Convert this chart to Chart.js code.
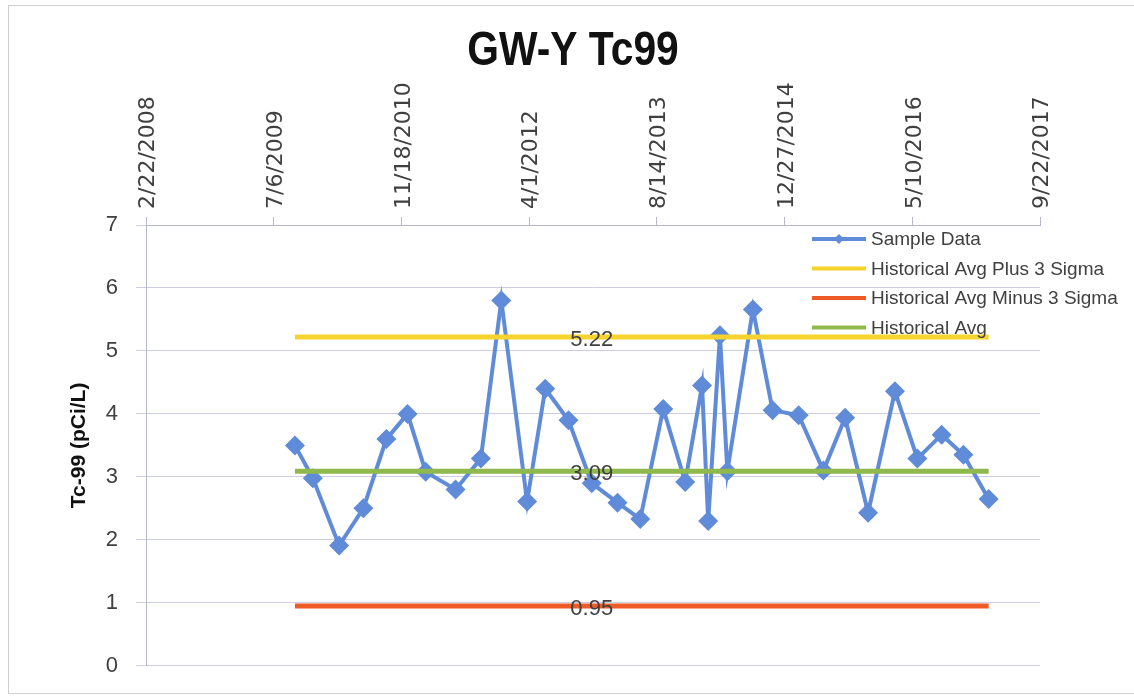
<!DOCTYPE html>
<html>
<head>
<meta charset="utf-8">
<script src="https://cdn.jsdelivr.net/npm/chart.js@4/dist/chart.umd.min.js"></script>
<style>
  html, body { margin: 0; padding: 0; background: #fff; }
  #wrap { position: relative; width: 1134px; height: 697px; overflow: hidden; }
  #frame { position: absolute; left: 8px; top: 5px; width: 1140px; height: 687px; border: 1px solid #cfcfcf; pointer-events: none; }
</style>
</head>
<body>
<div id="wrap">
  <canvas id="chart" width="1134" height="697"></canvas>
  <div id="frame"></div>
</div>
<script>
// Dados
const sampleDates = [
  '2009-09-27', '2009-12-06', '2010-03-19', '2010-06-22', '2010-09-20', '2010-12-12',
  '2011-02-21', '2011-06-18', '2011-09-25', '2011-12-14', '2012-03-24', '2012-06-03',
  '2012-09-02', '2012-12-02', '2013-03-13', '2013-06-10', '2013-09-08', '2013-12-03',
  '2014-02-07', '2014-03-03', '2014-04-18', '2014-05-17', '2014-08-25', '2014-11-10',
  '2015-02-20', '2015-05-28', '2015-08-21', '2015-11-19', '2016-03-03', '2016-05-30',
  '2016-09-02', '2016-11-26', '2017-03-05'
]
const sampleValues = [
  3.50, 2.98, 1.91, 2.50, 3.60, 4.00,
  3.08, 2.80, 3.29, 5.80, 2.61, 4.40,
  3.90, 2.90, 2.59, 2.33, 4.08, 2.92,
  4.45, 2.30, 5.25, 3.09, 5.66, 4.06,
  3.98, 3.10, 3.94, 2.43, 4.36, 3.29,
  3.67, 3.35, 2.65
]
const histAvg = 3.09
const histPlus3Sigma = 5.22
const histMinus3Sigma = 0.95

const axisStart = '2008-02-22'   // primeiro rótulo do eixo de datas
const axisDays = 3500
const axisStepDays = 500
const chartTitle = 'GW-Y Tc99'
const seriesNames = ['Sample Data', 'Historical Avg Plus 3 Sigma', 'Historical Avg Minus 3 Sigma', 'Historical Avg']

const DAY = 86400000
const toUTC = s => { const [y, m, d] = s.split('-').map(Number); return Date.UTC(y, m - 1, d) }
const base = toUTC(axisStart)
const dayOf = s => Math.round((toUTC(s) - base) / DAY)
const fmtDate = days => {
  const d = new Date(base + days * DAY)
  return `${d.getUTCMonth() + 1}/${d.getUTCDate()}/${d.getUTCFullYear()}`
}

const colors = {
  sample: '#5f8bd8',
  plus: '#f7d32e',
  minus: '#ef5b26',
  avg: '#8fb84d',
  grid: '#cdcde0',
  axis: '#b6b6cc',
  text: '#404040'
}

const xs = sampleDates.map(dayOf)
const samplePts = xs.map((x, i) => ({ x: x, y: sampleValues[i] }))
const flat = v => xs.map(x => ({ x: x, y: v }))
const LABEL_INDEX = 13  // ponto onde o Excel pôs o rótulo dos limites

// título centrado na imagem inteira (não só na área do gráfico), condensado tipo Calibri
const pageTitle = {
  id: 'pageTitle',
  afterDraw(chart) {
    const ctx = chart.ctx
    ctx.save()
    ctx.font = 'bold 48px "Liberation Sans", Arial, sans-serif'
    ctx.fillStyle = '#111'
    ctx.textAlign = 'center'
    ctx.textBaseline = 'middle'
    ctx.translate(573, 52)
    ctx.scale(0.85, 1)
    ctx.fillText(chartTitle, 0, 0)
    ctx.restore()
  }
}

// rótulos de valor nas linhas de limite
const limitLabels = {
  id: 'limitLabels',
  afterDatasetsDraw(chart) {
    const ctx = chart.ctx
    ctx.save()
    ctx.font = '22px "Liberation Sans", Arial, sans-serif'
    ctx.fillStyle = colors.text
    ctx.textAlign = 'center'
    ctx.textBaseline = 'middle'
    for (let i = 1; i <= 3; i++) {
      const el = chart.getDatasetMeta(i).data[LABEL_INDEX]
      const v = chart.data.datasets[i].data[LABEL_INDEX].y
      ctx.fillText(v.toFixed(2), el.x, el.y + 3)
    }
    ctx.restore()
  }
}

// legenda desenhada dentro da área do gráfico, como no Excel
const insideLegend = {
  id: 'insideLegend',
  afterDraw(chart) {
    const ctx = chart.ctx
    const x0 = 812, x1 = 866, rowH = 29.5, y0 = 239
    ctx.save()
    ctx.font = '19px "Liberation Sans", Arial, sans-serif'
    ctx.textBaseline = 'middle'
    ctx.textAlign = 'left'
    chart.data.datasets.forEach((ds, i) => {
      const y = y0 + i * rowH
      ctx.strokeStyle = ds.borderColor
      ctx.lineWidth = 4
      ctx.beginPath()
      ctx.moveTo(x0, y)
      ctx.lineTo(x1, y)
      ctx.stroke()
      if (i === 0) {
        ctx.fillStyle = ds.borderColor
        ctx.beginPath()
        ctx.moveTo((x0 + x1) / 2, y - 5)
        ctx.lineTo((x0 + x1) / 2 + 5, y)
        ctx.lineTo((x0 + x1) / 2, y + 5)
        ctx.lineTo((x0 + x1) / 2 - 5, y)
        ctx.closePath()
        ctx.fill()
      }
      ctx.fillStyle = colors.text
      ctx.fillText(ds.label, x1 + 5, y + 1)
    })
    ctx.restore()
  }
}

const chart = new Chart(document.getElementById('chart'), {
  type: 'line',
  data: {
    datasets: [
      {
        label: seriesNames[0],
        data: samplePts,
        borderColor: colors.sample,
        backgroundColor: colors.sample,
        borderWidth: 4,
        pointStyle: 'rectRot',
        pointRadius: 10,
        pointHoverRadius: 10,
        pointBorderWidth: 0,
        order: 4
      },
      {
        label: seriesNames[1],
        data: flat(histPlus3Sigma),
        borderColor: colors.plus,
        borderWidth: 5,
        pointRadius: 0,
        order: 3
      },
      {
        label: seriesNames[2],
        data: flat(histMinus3Sigma),
        borderColor: colors.minus,
        borderWidth: 5,
        pointRadius: 0,
        order: 2
      },
      {
        label: seriesNames[3],
        data: flat(histAvg),
        borderColor: colors.avg,
        borderWidth: 5,
        pointRadius: 0,
        order: 1
      }
    ]
  },
  options: {
    responsive: false,
    animation: false,
    layout: { padding: { left: 0, right: 94, top: 60, bottom: 24 } },
    plugins: {
      legend: { display: false },
      tooltip: { enabled: false },
      title: { display: false }
    },
    scales: {
      x: {
        type: 'linear',
        position: 'top',
        min: 0,
        max: axisDays,
        afterBuildTicks: scale => {
          const t = []
          for (let v = 0; v <= axisDays; v += axisStepDays) t.push({ value: v })
          scale.ticks = t
        },
        afterFit: scale => { scale.height = 225 - 60 },
        grid: { drawOnChartArea: false, drawTicks: true, tickLength: 8, color: colors.axis },
        border: { display: true, color: colors.axis, width: 1 },
        ticks: {
          autoSkip: false,
          minRotation: 90,
          maxRotation: 90,
          padding: 8,
          labelOffset: 29,
          color: colors.text,
          font: { family: '"DejaVu Sans", Verdana, sans-serif', size: 22 },
          callback: v => fmtDate(v)
        }
      },
      y: {
        min: 0,
        max: 7,
        afterFit: scale => { scale.width = 146 },
        grid: { color: colors.grid, tickLength: 10, lineWidth: 1 },
        border: { display: true, color: colors.axis, width: 1 },
        ticks: {
          stepSize: 1,
          padding: 18,
          color: colors.text,
          font: { family: '"Liberation Sans", Arial, sans-serif', size: 22 }
        },
        title: {
          display: true,
          text: 'Tc-99 (pCi/L)',
          color: '#111',
          font: { family: '"Liberation Sans", Arial, sans-serif', size: 21, weight: 'bold' },
          padding: { top: 67, bottom: 0 }
        }
      }
    }
  },
  plugins: [pageTitle, limitLabels, insideLegend]
})
</script>
</body>
</html>
